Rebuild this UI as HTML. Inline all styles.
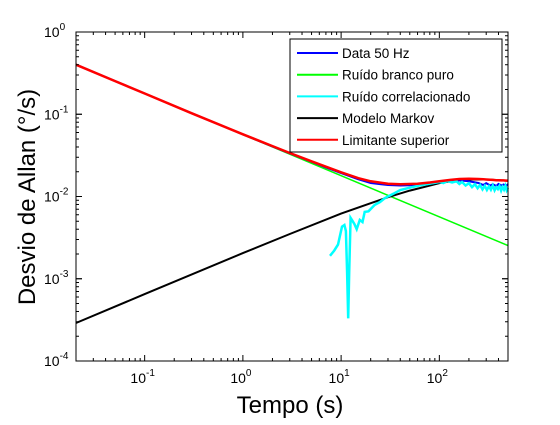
<!DOCTYPE html>
<html><head><meta charset="utf-8"><style>
body{margin:0;background:#fff}
svg text{font-family:"Liberation Sans",sans-serif}
</style></head><body>
<svg id="chart" width="560" height="420" xmlns="http://www.w3.org/2000/svg">
<rect width="560" height="420" fill="#fff"/>
<g id="plot"></g>
<g id="axes"></g>
<text x="290" y="413" font-size="24" text-anchor="middle">Tempo (s)</text>
<text transform="translate(35,197) rotate(-90)" font-size="24" text-anchor="middle">Desvio de Allan (°/s)</text>
<g>
<rect x="290" y="39" width="212" height="113" fill="#fff" stroke="#000" stroke-width="1"/>
<g id="legend-items"></g>
</g>
</svg>
<script>
const tauData=[0.02,0.05,0.1,0.3,1,2,3,5,7,10,15,20,30,40,60,80,100,130,160,200,250,280,300,330,350,380,400,430,450,480,500];
const blueData=[0.4,0.253,0.179,0.103,0.057,0.0405,0.0335,0.0265,0.0225,0.0193,0.0162,0.0146,0.0138,0.0136,0.0138,0.0143,0.0150,0.0156,0.0157,0.0153,0.0146,0.0138,0.0145,0.0136,0.0141,0.0134,0.0142,0.0136,0.014,0.0135,0.0142];
const redData=[0.4,0.253,0.179,0.103,0.057,0.041,0.0338,0.0268,0.023,0.0197,0.0167,0.0153,0.0143,0.0141,0.0143,0.0148,0.0153,0.0159,0.0163,0.0164,0.0163,0.0162,0.0161,0.016,0.0159,0.0158,0.0158,0.0157,0.0157,0.0156,0.0156];
const greenTau=[0.02,500];
const greenData=[0.4,0.00253];
const blackTau=[0.02,0.1,1,3,10,20,30,50,100,150,200,300,500];
const blackData=[0.00029,0.00065,0.00205,0.0035,0.0062,0.0083,0.0098,0.0118,0.0145,0.0157,0.0161,0.0161,0.0155];
const cyanTau=[7.7,8.5,9.3,10.2,10.8,11.2,11.5,11.8,12.1,12.5,13.0,13.7,14.4,15.5,16.5,17.4,19,22,25,28,34,40,50,64,80,100,110,120,135,150,160,170,185,200,215,230,245,260,275,290,305,320,335,350,365,380,395,410,425,440,455,470,485,500];
const cyanData=[0.0019,0.0022,0.0026,0.0043,0.0045,0.0038,0.0012,0.00033,0.0012,0.0055,0.0051,0.0046,0.004,0.0052,0.0049,0.0065,0.0066,0.0079,0.0086,0.0096,0.0108,0.012,0.0128,0.0137,0.0143,0.015,0.0146,0.0154,0.0148,0.0153,0.0142,0.015,0.0136,0.0145,0.013,0.0141,0.0126,0.0138,0.0122,0.0135,0.012,0.0133,0.0121,0.0136,0.0119,0.013,0.0123,0.0134,0.0118,0.0131,0.0121,0.0135,0.0119,0.0128];
const xTicks=[0.1,1,10,100];
const xTickExp=["-1","0","1","2"];
const yTicks=[1,0.1,0.01,0.001,0.0001];
const yTickExp=["0","-1","-2","-3","-4"];
const legendLabels=["Data 50 Hz","Ruído branco puro","Ruído correlacionado","Modelo Markov","Limitante superior"];
const legendColors=["#0000ff","#00ff00","#00ffff","#000000","#ff0000"];

const L=76,R=508,T=32,B=361;
const xmin=Math.log10(0.02),xmax=Math.log10(500),ymin=-4,ymax=0;
const X=v=>L+(Math.log10(v)-xmin)/(xmax-xmin)*(R-L);
const Y=v=>B-(Math.log10(v)-ymin)/(ymax-ymin)*(B-T);
const NS="http://www.w3.org/2000/svg";
const plot=document.getElementById('plot'),axes=document.getElementById('axes');
function mk(tag,attrs,parent){const e=document.createElementNS(NS,tag);for(const k in attrs)e.setAttribute(k,attrs[k]);parent.appendChild(e);return e;}
function series(xs,ys,color,name,w){
  const p=mk('polyline',{points:xs.map((t,i)=>X(t).toFixed(1)+','+Y(ys[i]).toFixed(1)).join(' '),fill:'none',stroke:color,'stroke-width':w},plot);
  
  
}
series(greenTau,greenData,'#00ff00','white-noise-line',1.5);
series(blackTau,blackData,'#000000','markov-model-line',2);
series(tauData,blueData,'#0000ff','data-50hz-line',2);
series(cyanTau,cyanData,'#00ffff','correlated-noise-line',2.5);
series(tauData,redData,'#ff0000','upper-bound-line',2.5);

const fr=mk('rect',{x:L,y:T,width:R-L,height:B-T,fill:'none',stroke:'#000','stroke-width':1},axes);


for(let d=-2;d<=2;d++){for(let m=1;m<10;m++){const v=m*Math.pow(10,d);if(v<0.02||v>500)continue;const x=X(v);const len=m===1?6:3;
 mk('line',{x1:x,y1:B,x2:x,y2:B-len,stroke:'#000'},axes);mk('line',{x1:x,y1:T,x2:x,y2:T+len,stroke:'#000'},axes);}}
for(let d=-4;d<0;d++){for(let m=1;m<=10;m++){const v=m*Math.pow(10,d);const y=Y(v);const len=(m===1||m===10)?6:3;
 mk('line',{x1:L,y1:y,x2:L+len,y2:y,stroke:'#000'},axes);mk('line',{x1:R,y1:y,x2:R-len,y2:y,stroke:'#000'},axes);}}
xTicks.forEach((v,i)=>{const t=mk('text',{x:X(v)-2,y:383,'font-size':14,'text-anchor':'middle'},axes);
 
 
 t.innerHTML='10<tspan dy="-7" font-size="10">'+xTickExp[i]+'</tspan>';});
yTicks.forEach((v,i)=>{const t=mk('text',{x:44,y:Y(v)+5,'font-size':14},axes);
 
 
 t.innerHTML='10<tspan dy="-7" font-size="10">'+yTickExp[i]+'</tspan>';});
const lg=document.getElementById('legend-items');
legendLabels.forEach((s,i)=>{const y=53+i*21.7;
 const g=mk('g',{},lg);
 
 
 mk('line',{x1:297,y1:y,x2:338,y2:y,stroke:legendColors[i],'stroke-width':2},g);
 const t=mk('text',{x:342,y:y+5,'font-size':13.5},g);t.textContent=s;});
</script>
</body></html>
